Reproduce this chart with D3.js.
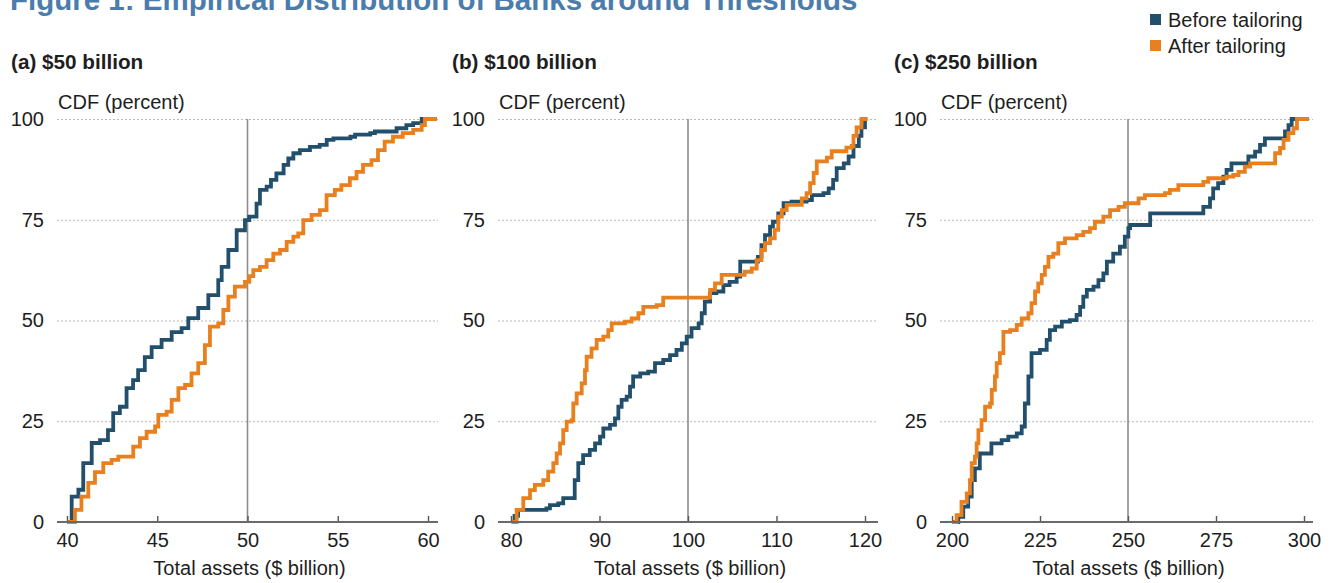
<!DOCTYPE html>
<html>
<head>
<meta charset="utf-8">
<script src="https://cdn.jsdelivr.net/npm/d3@7"></script>
<style>
  html, body { margin: 0; padding: 0; background: #fff; }
  svg { display: block; font-family: "Liberation Sans", Arial, sans-serif; }
</style>
</head>
<body>
<svg id="chart" width="1335" height="583"></svg>
<script>
// Empirical CDFs of bank total assets near the three regulatory thresholds.
// Each series is a list of [total assets ($ billion), CDF (percent)] step points.

const before50 = [[40.0,0],[40.26,6.3],[40.63,8],[40.9,14.6],[41.37,19.6],[41.83,20.3],[42.27,22.8],[42.56,27],[42.93,28.6],[43.3,33.2],[43.66,35.2],[43.94,37.7],[44.31,40.9],[44.69,43.4],[45.24,45.2],[45.8,47.1],[46.35,48.1],[46.72,50.6],[47.27,53.1],[47.83,56.3],[48.38,60],[48.57,63.3],[48.94,67.5],[49.4,72.4],[49.86,74.9],[50.1,75.8],[50.5,79],[50.69,82.4],[51.06,83.2],[51.3,84.9],[51.6,86.5],[52.0,88.6],[52.26,90.2],[52.54,91.5],[52.9,92.3],[53.46,93.1],[54.0,93.6],[54.39,94.8],[54.76,95.2],[55.7,95.6],[55.96,96.1],[56.8,96.5],[57.06,96.9],[58.26,97.7],[58.8,98.5],[59.18,99],[59.65,100],[60.4,100]];
const after50 = [[40.0,0],[40.44,3],[40.8,6.3],[41.18,9.7],[41.55,12.4],[42.01,14.6],[42.47,15.4],[42.84,16.2],[43.67,18.7],[44.04,20.8],[44.41,22.4],[44.88,23.7],[45.06,26.6],[45.52,27.4],[45.8,30.3],[46.17,33.2],[46.54,34],[46.9,36.9],[47.27,39.4],[47.64,43.9],[47.92,48.5],[48.38,49.3],[48.66,52.6],[48.94,55.9],[49.3,58.4],[49.86,59.6],[50.1,61],[50.32,62.5],[50.69,63.3],[51.06,65],[51.43,66.6],[51.8,67.5],[52.17,69.5],[52.54,70.8],[52.81,71.6],[53.09,74.9],[53.55,76.2],[54.01,77.4],[54.38,81.1],[54.84,82.4],[55.2,83.6],[55.67,85.3],[56.04,86.9],[56.4,88.6],[56.87,89.8],[57.23,92.3],[57.6,94.4],[58.06,95.6],[58.6,96.5],[59.18,97.3],[59.65,98.5],[59.83,100],[60.5,100]];

const before100 = [[80.08,0],[80.4,1.5],[80.8,3],[84.0,3.4],[84.4,4.2],[85.34,4.6],[85.9,5.9],[87.2,10.4],[87.6,14.6],[88.15,16.6],[88.9,17.9],[89.5,19.5],[90.06,21.2],[90.43,23.2],[91.19,24.1],[91.75,25.7],[92.13,28.6],[92.5,30.3],[93.07,31.1],[93.45,33.6],[93.8,36.1],[94.6,36.9],[95.5,37.3],[96.27,39.4],[97.2,40.2],[97.97,41.4],[98.7,42.7],[99.3,44.3],[99.85,46],[100.4,48.1],[101.2,49.3],[101.55,51.8],[101.9,54.7],[102.5,56.8],[103.2,57.2],[104.0,58.8],[104.7,59.6],[105.5,60.9],[105.9,64.6],[107.9,65.8],[108.3,68.7],[108.7,71.2],[109.27,73.3],[109.6,74.5],[110.2,76.6],[110.8,79.1],[111.7,79.5],[113.4,79.9],[114.0,81.1],[115.3,81.6],[115.9,82.8],[116.4,84.9],[116.8,87.8],[117.6,89],[118.15,90.7],[118.7,93.3],[119.3,95.8],[119.6,97.9],[120.0,99.5]];
const after100 = [[80.08,0],[80.64,3],[81.39,5.9],[82.15,7.9],[82.7,9.2],[83.65,10.4],[84.2,12.5],[84.78,14.6],[85.16,17],[85.54,19.5],[85.9,22.8],[86.29,24.9],[86.86,25.3],[87.04,29.4],[87.42,31.9],[87.99,34.4],[88.36,37.7],[88.55,41],[89.1,43.1],[89.68,45.2],[90.43,46],[90.99,47.6],[91.38,49.3],[92.88,49.7],[93.63,50.5],[94.39,51.8],[94.95,53.4],[96.46,53.8],[97.2,55.7],[102.5,57.6],[103.05,59.2],[103.8,61.3],[106.4,62.1],[107.2,62.9],[107.76,65],[108.3,67.5],[108.7,69.2],[109.27,70.4],[109.8,72.5],[110.2,75.8],[110.6,77.4],[111.15,78.7],[112.85,80.3],[113.4,81.6],[113.8,84.1],[114.2,86.6],[114.55,89.5],[115.7,90.4],[116.24,92],[117.9,92.9],[118.5,93.3],[118.7,95.8],[119.05,97.9],[119.6,100],[120.3,100]];

const before250 = [[200,0],[201.8,1.3],[203.2,3.8],[204.6,6.3],[205.6,10.4],[206.5,13.3],[207.9,17],[211.2,19.5],[214.1,20.3],[216,21.2],[218.4,22],[219.8,23.7],[220.7,29.4],[221.7,36.1],[222.6,41.9],[225,42.7],[226.9,45.2],[227.8,47.6],[229.3,48.5],[231.2,49.7],[233.5,50.1],[235.4,51.4],[236.4,53.4],[237.3,55.9],[238.3,57.6],[240.2,58.4],[241.6,60],[243,61.7],[244,64.6],[245.8,66.6],[247.7,68.3],[249.1,70.8],[250.1,72.9],[250.6,73.7],[256.3,76.6],[271.4,78.2],[273.3,80.3],[274.2,82.8],[275.6,84.1],[277.1,85.7],[278,87.4],[279.4,89],[284.2,90.7],[286.1,91.9],[287.5,93.6],[288.9,95.2],[294.6,96.9],[295.6,98.5],[296.5,100],[301.3,100]];
const after250 = [[200,0],[201.3,1.7],[202.7,5],[204.2,7.1],[205.1,10.4],[205.6,14.6],[206.5,16.2],[207,19.5],[207.5,22.8],[208.4,25.3],[209.4,28.6],[210.8,29.4],[211.3,32.8],[212.2,36.1],[212.7,39.4],[213.6,41.9],[214.6,47.2],[216.5,47.6],[218.4,48.9],[219.8,50.5],[221.7,51.8],[222.6,54.3],[223.6,57.2],[224.5,59.2],[225.5,61.3],[226.4,63.3],[227.4,65.8],[228.8,66.6],[230.2,69.2],[232.1,70.4],[235.4,71.2],[237.3,72],[239.2,72.9],[240.6,74.5],[243,75.8],[244.9,77.4],[247.3,78.2],[249.1,79.1],[253,80.3],[254.8,81.1],[260.5,81.6],[261.9,82.4],[264.3,83.6],[271.4,84.4],[272.8,85.3],[278,85.7],[279.9,86.1],[281.4,86.9],[283.2,88.2],[284.7,89],[291.8,91.5],[293.2,92.8],[294.2,94.8],[295.6,96.5],[297,97.7],[298,100],[301.3,100]];

const ticks50 = [40, 45, 50, 55, 60];
const ticks100 = [80, 90, 100, 110, 120];
const ticks250 = [200, 225, 250, 275, 300];
const yTicks = [0, 25, 50, 75, 100];
const thresholds = [50, 100, 250];
const panelTitles = ["(a) $50 billion", "(b) $100 billion", "(c) $250 billion"];
const seriesNames = ["Before tailoring", "After tailoring"];

const figureTitle = "Figure 1: Empirical Distribution of Banks around Thresholds";
const yLabel = "CDF (percent)";
const xLabel = "Total assets ($ billion)";

const colors = { before: "#22506c", after: "#e8801f" };
const textColor = "#1e1e1e";
const fontSize = 20;

// Panel frames: axis extent and the pixel positions of the first/last x tick.
const frames = [
  { left: 57,  right: 438,  r0: 67,  r1: 428 },
  { left: 498, right: 878,  r0: 511, r1: 865 },
  { left: 940, right: 1313, r0: 952, r1: 1304 }
];
const panels = [
  { ticks: ticks50,  before: before50,  after: after50 },
  { ticks: ticks100, before: before100, after: after100 },
  { ticks: ticks250, before: before250, after: after250 }
];

const svg = d3.select("#chart");
const y = d3.scaleLinear().domain([0, 100]).range([522, 119]);

// Figure title (sits at the very top edge)
svg.append("text")
  .attr("x", 10).attr("y", 10)
  .attr("fill", "#4b7cab")
  .attr("font-weight", "bold")
  .attr("font-size", 29.5)
  .text(figureTitle);

// Legend
const legend = svg.append("g");
seriesNames.forEach((name, i) => {
  const cy = 20 + i * 26;
  legend.append("rect")
    .attr("x", 1150).attr("y", cy - 6).attr("width", 11).attr("height", 11)
    .attr("fill", i === 0 ? colors.before : colors.after);
  legend.append("text")
    .attr("x", 1168).attr("y", cy).attr("dy", "0.35em")
    .attr("font-size", fontSize).attr("fill", textColor)
    .text(name);
});

panels.forEach((p, i) => {
  const f = frames[i];
  const x = d3.scaleLinear()
    .domain([p.ticks[0], p.ticks[p.ticks.length - 1]])
    .range([f.r0, f.r1]);
  const g = svg.append("g");

  // Panel title and y-axis caption
  g.append("text")
    .attr("x", f.left - 46).attr("y", 69)
    .attr("font-size", 20.7).attr("font-weight", "bold").attr("fill", textColor)
    .text(panelTitles[i]);
  g.append("text")
    .attr("x", f.left + 1).attr("y", 109)
    .attr("font-size", fontSize).attr("fill", textColor)
    .text(yLabel);

  // Horizontal dotted gridlines with y labels
  const yAxis = g.append("g")
    .attr("transform", `translate(${f.left},0)`)
    .call(d3.axisLeft(y).tickValues(yTicks).tickSize(-(f.right - f.left)).tickPadding(13));
  yAxis.select(".domain").remove();
  yAxis.selectAll(".tick line")
    .attr("stroke", "#b8b8b8").attr("stroke-width", 1).attr("stroke-dasharray", "2,2");
  yAxis.selectAll(".tick text")
    .attr("font-size", fontSize).attr("fill", textColor)
    .attr("font-family", "Liberation Sans, Arial, sans-serif");
  yAxis.selectAll(".tick").filter(d => d === 0).select("line").remove();

  // Threshold marker
  g.append("line")
    .attr("x1", x(thresholds[i])).attr("x2", x(thresholds[i]))
    .attr("y1", y(0)).attr("y2", y(100))
    .attr("stroke", "#8c8c8c").attr("stroke-width", 1.6);

  // CDF step lines
  const line = d3.line()
    .x(d => x(d[0])).y(d => y(d[1]))
    .curve(d3.curveStepAfter);
  g.append("path").datum(p.before)
    .attr("d", line).attr("fill", "none")
    .attr("stroke", colors.before).attr("stroke-width", 3.8)
    .attr("stroke-linejoin", "miter");
  g.append("path").datum(p.after)
    .attr("d", line).attr("fill", "none")
    .attr("stroke", colors.after).attr("stroke-width", 3.8)
    .attr("stroke-linejoin", "miter");

  // X axis with inward ticks
  const xAxis = g.append("g")
    .attr("transform", `translate(0,${y(0)})`)
    .call(d3.axisBottom(x).tickValues(p.ticks).tickSizeInner(-6).tickSizeOuter(0).tickPadding(11));
  xAxis.select(".domain").remove();
  xAxis.selectAll(".tick line").attr("stroke", "#555").attr("stroke-width", 1.4);
  xAxis.selectAll(".tick text")
    .attr("font-size", fontSize).attr("fill", textColor)
    .attr("font-family", "Liberation Sans, Arial, sans-serif");
  g.append("line")
    .attr("x1", f.left).attr("x2", f.right)
    .attr("y1", y(0)).attr("y2", y(0))
    .attr("stroke", "#6a6a6a").attr("stroke-width", 1.8);

  g.append("text")
    .attr("x", (f.left + f.right) / 2 + 2).attr("y", 575)
    .attr("text-anchor", "middle")
    .attr("font-size", fontSize).attr("fill", textColor)
    .text(xLabel);
});
</script>
</body>
</html>
